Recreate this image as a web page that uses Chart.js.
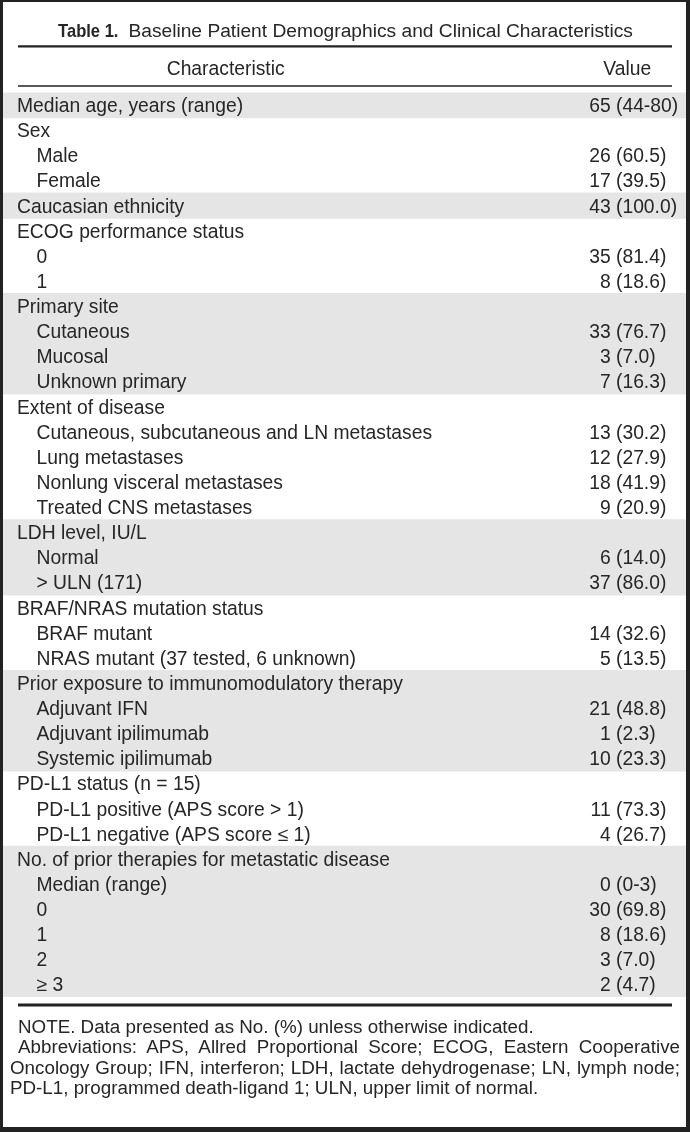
<!DOCTYPE html>
<html lang="en">
<head>
  <meta charset="UTF-8" />
  <title>Table 1. Baseline Patient Demographics and Clinical Characteristics</title>
  <script src="https://cdn.jsdelivr.net/npm/chart.js"></script>
  <style>
    html, body { margin: 0; padding: 0; }
    body { width: 690px; height: 1132px; background: #222; position: relative; overflow: hidden; }
    #frame { position: absolute; left: 3px; top: 2px; width: 683px; height: 1125px; background: #fff; }
    #chartBox { position: absolute; left: 0; top: 0; width: 683px; height: 1125px; }
    #notes { position: absolute; left: 7px; top: 1015px; width: 670px; color: #262626;
             font: 18.8px 'Liberation Sans', Arial, sans-serif; line-height: 20.4px; }
    #notes div { text-align: justify; text-align-last: justify; }
    #notes .first { padding-left: 8px; }
    #notes .last { text-align-last: left; }
  </style>
</head>
<body>
  <div id="frame">
    <div id="chartBox"><canvas id="tableChart"></canvas></div>
    <div id="notes">
      <div class="first last">NOTE. Data presented as No. (%) unless otherwise indicated.</div>
      <div class="first">Abbreviations: APS, Allred Proportional Score; ECOG, Eastern Cooperative</div>
      <div>Oncology Group; IFN, interferon; LDH, lactate dehydrogenase; LN, lymph node;</div>
      <div class="last">PD-L1, programmed death-ligand 1; ULN, upper limit of normal.</div>
    </div>
  </div>

  <script>
    // table content
    const tableNumber = 'Table 1.';
    const tableTitle = 'Baseline Patient Demographics and Clinical Characteristics';
    const columnTitles = ['Characteristic', 'Value'];

    const rowLabels = [
      'Median age, years (range)',
      'Sex', 'Male', 'Female',
      'Caucasian ethnicity',
      'ECOG performance status', '0', '1',
      'Primary site', 'Cutaneous', 'Mucosal', 'Unknown primary',
      'Extent of disease', 'Cutaneous, subcutaneous and LN metastases', 'Lung metastases',
      'Nonlung visceral metastases', 'Treated CNS metastases',
      'LDH level, IU/L', 'Normal', '> ULN (171)',
      'BRAF/NRAS mutation status', 'BRAF mutant', 'NRAS mutant (37 tested, 6 unknown)',
      'Prior exposure to immunomodulatory therapy', 'Adjuvant IFN', 'Adjuvant ipilimumab', 'Systemic ipilimumab',
      'PD-L1 status (n = 15)', 'PD-L1 positive (APS score > 1)', 'PD-L1 negative (APS score \u2264 1)',
      'No. of prior therapies for metastatic disease', 'Median (range)', '0', '1', '2', '\u2265 3'
    ];
    // 0 = group heading, 1 = indented sub-row
    const rowLevel = [0, 0, 1, 1, 0, 0, 1, 1, 0, 1, 1, 1, 0, 1, 1, 1, 1, 0, 1, 1,
                      0, 1, 1, 0, 1, 1, 1, 0, 1, 1, 0, 1, 1, 1, 1, 1];
    const counts = [65, null, 26, 17, 43, null, 35, 8, null, 33, 3, 7, null, 13, 12, 18, 9,
                    null, 6, 37, null, 14, 5, null, 21, 1, 10, null, 11, 4, null, 0, 30, 8, 3, 2];
    const percents = ['44-80', null, '60.5', '39.5', '100.0', null, '81.4', '18.6', null,
                      '76.7', '7.0', '16.3', null, '30.2', '27.9', '41.9', '20.9', null,
                      '14.0', '86.0', null, '32.6', '13.5', null, '48.8', '2.3', '23.3', null,
                      '73.3', '26.7', null, '0-3', '69.8', '18.6', '7.0', '4.7'];

    const family = "'Liberation Sans', Arial, sans-serif";
    const ink = '#262626';
    const shade = '#e5e5e5';

    // alternate grey bands per group
    let group = -1;
    const bands = rowLevel.map(lvl => {
      if (lvl === 0) group++;
      return group % 2 === 0 ? [0, 1] : null;
    });

    const tableText = {
      id: 'tableText',
      afterDatasetsDraw(chart) {
        const { ctx, chartArea, scales: { x, y } } = chart;
        const left = x.getPixelForValue(0);
        const anchor = x.getPixelForValue(0.8975);
        ctx.save();
        ctx.fillStyle = ink;
        ctx.textBaseline = 'alphabetic';
        ctx.font = '19.3px ' + family;

        rowLabels.forEach((label, i) => {
          const yy = y.getPixelForValue(i) + 7;
          ctx.textAlign = 'left';
          ctx.fillText(label, left + (rowLevel[i] ? 33.5 : 14), yy);
          if (counts[i] !== null) {
            ctx.textAlign = 'right';
            ctx.fillText(String(counts[i]), anchor - ctx.measureText(' ').width, yy);
            ctx.textAlign = 'left';
            ctx.fillText('(' + percents[i] + ')', anchor, yy);
          }
        });

        // column heads
        const headY = chartArea.top - 17.5;
        ctx.textAlign = 'center';
        ctx.fillText(columnTitles[0], x.getPixelForValue(0.326), headY);
        ctx.textAlign = 'right';
        ctx.fillText(columnTitles[1], x.getPixelForValue(0.949), headY);

        // title: condensed bold number + regular text
        const titleY = chartArea.top - 55.2;
        ctx.font = 'bold 19px ' + family;
        const squeeze = 0.87;
        const wb = ctx.measureText(tableNumber).width * squeeze;
        ctx.font = '19.2px ' + family;
        const wr = ctx.measureText(tableTitle).width;
        const gap = 10;
        let tx = (chartArea.left + chartArea.right) / 2 + 1 - (wb + gap + wr) / 2;
        ctx.textAlign = 'left';
        ctx.save();
        ctx.translate(tx, titleY);
        ctx.scale(squeeze, 1);
        ctx.font = 'bold 19px ' + family;
        ctx.fillText(tableNumber, 0, 0);
        ctx.restore();
        ctx.font = '19.2px ' + family;
        ctx.fillText(tableTitle, tx + wb + gap, titleY);

        // rules
        const x0 = left + 15, x1 = x.getPixelForValue(0.9795);
        ctx.strokeStyle = '#222';
        const rule = (yy, w) => {
          ctx.lineWidth = w;
          ctx.beginPath();
          ctx.moveTo(x0, yy);
          ctx.lineTo(x1, yy);
          ctx.stroke();
        };
        rule(chartArea.top - 46.2, 2.2);
        rule(chartArea.top - 6.5, 1.6);
        rule(chartArea.bottom + 8, 3);
        ctx.restore();
      }
    };

    const ctx = document.getElementById('tableChart').getContext('2d');
    new Chart(ctx, {
      type: 'bar',
      data: {
        labels: rowLabels,
        datasets: [{
          data: bands,
          backgroundColor: shade,
          borderWidth: 0,
          barPercentage: 1,
          categoryPercentage: 1,
          inflateAmount: 0.5
        }]
      },
      options: {
        indexAxis: 'y',
        responsive: true,
        maintainAspectRatio: false,
        animation: false,
        events: [],
        layout: { padding: { top: 90.5, bottom: 130, left: 0, right: 0 } },
        plugins: {
          legend: { display: false },
          tooltip: { enabled: false }
        },
        scales: {
          x: { type: 'linear', min: 0, max: 1, display: false },
          y: { type: 'category', display: false }
        }
      },
      plugins: [tableText]
    });
  </script>
</body>
</html>
